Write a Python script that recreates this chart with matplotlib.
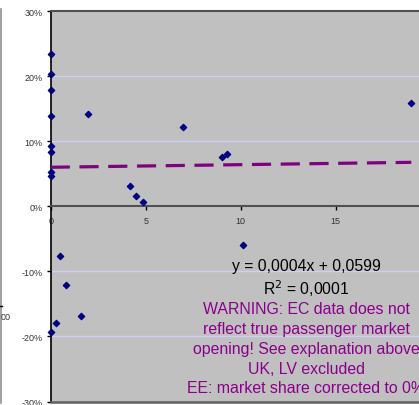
import matplotlib
matplotlib.use("Agg")
import matplotlib.pyplot as plt
from matplotlib.lines import Line2D
import numpy as np

plt.rcParams['font.family'] = ['Liberation Sans', 'DejaVu Sans']

# data (x value, market share change)
x_vals = [0, 0, 0, 0, 0, 0, 0, 0, 1.95, 4.19, 4.5, 4.87, 6.96, 9.02, 9.26, 18.98,
          10.1, 0.5, 0.82, 1.6, 0.26, 0]
y_vals = [0.234, 0.203, 0.179, 0.139, 0.092, 0.084, 0.053, 0.046, 0.142, 0.031, 0.016,
          0.006, 0.121, 0.076, 0.080, 0.158, -0.059, -0.076, -0.121, -0.169, -0.179, -0.193]
slope = 0.0004
intercept = 0.0599
x_ticks = [0, 5, 10, 15]
y_ticks = [-0.3, -0.2, -0.1, 0.0, 0.1, 0.2, 0.3]
y_tick_labels = ['-30%', '-20%', '-10%', '0%', '10%', '20%', '30%']
eq_text = "y = 0,0004x + 0,0599"
r2_text = "R$^2$ = 0,0001"
warning_lines = ["WARNING: EC data does not",
                 "reflect true passenger market",
                 "opening! See explanation above",
                 "UK, LV excluded",
                 "EE: market share corrected to 0%"]

W, H = 419, 406
fig = plt.figure(figsize=(W / 100, H / 100), dpi=100)
fig.patch.set_facecolor('white')

left_px, right_px, top_px, bot_px = 50.7, 430.7, 12, 402.5
ax = fig.add_axes([left_px / W, (H - bot_px) / H, (right_px - left_px) / W, (bot_px - top_px) / H])
ax.set_facecolor('#C0C0C0')
ax.set_xlim(0, 20)
ax.set_ylim(-0.3, 0.3)

# gridlines
for yv in [-0.2, -0.1, 0.1, 0.2]:
    ax.axhline(yv, color='#CFCFF5', lw=1.0, zorder=1)

# spines
ax.spines['left'].set_color('black')
ax.spines['left'].set_linewidth(1.2)
ax.spines['top'].set_color('#505050')
ax.spines['top'].set_linewidth(1.5)
ax.spines['right'].set_visible(False)
ax.spines['bottom'].set_position(('data', 0))
ax.spines['bottom'].set_color('#505050')
ax.spines['bottom'].set_linewidth(1.5)
ax.axhline(-0.3, color='#606060', lw=1.8, zorder=3, clip_on=False)

ax.set_xticks(x_ticks)
ax.set_xticklabels([str(v) for v in x_ticks])
ax.set_yticks(y_ticks)
ax.set_yticklabels(y_tick_labels)
ax.tick_params(axis='x', direction='out', length=3, width=1, colors='black', labelsize=6.5,
               labelcolor='#333333', pad=4)
ax.tick_params(axis='y', direction='out', length=3, width=1, colors='black', labelsize=6.5,
               labelcolor='#333333', pad=3)

# trend line
xt = np.array([min(x_vals), max(x_vals)])
ax.plot(xt, slope * xt + intercept, color='#800080', lw=2.3, dashes=(6, 3), zorder=4)

# points
ax.scatter(x_vals, y_vals, marker='D', s=10, color='#000080', zorder=5, clip_on=False)

# texts
cx = 306
def fy(py):
    return (H - py) / H
fig.text(cx / W, fy(266.5), eq_text, ha='center', va='center', fontsize=11.3, color='black')
fig.text(cx / W, fy(289), r2_text, ha='center', va='center', fontsize=11.3, color='black')
ys = [310, 330, 350, 369.5, 389]
for t, yy in zip(warning_lines, ys):
    fig.text(cx / W, fy(yy), t, ha='center', va='center', fontsize=11.4, color='#8B008B')

# partial neighbouring chart at left edge
fig.add_artist(Line2D([0.7 / W, 0.7 / W], [fy(10), fy(404)], color='#909090', lw=1.2))
fig.add_artist(Line2D([0, 2 / W], [fy(307), fy(307)], color='black', lw=1))
fig.text(0.5 / W, fy(318), "00", ha='left', va='center', fontsize=6.5, color='#333333')

fig.savefig('out.png', dpi=100)
